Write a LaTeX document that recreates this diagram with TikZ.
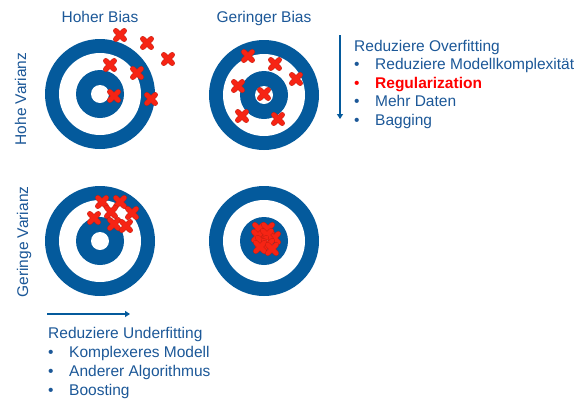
\documentclass[tikz,border=0pt]{standalone}
\usepackage{fontspec}
\setmainfont{Liberation Sans}
\usetikzlibrary{arrows.meta}
\definecolor{ringblue}{RGB}{4,90,156}
\definecolor{txtblue}{RGB}{28,88,152}
\definecolor{xred}{RGB}{246,36,20}
\definecolor{bred}{RGB}{255,0,0}
\tikzset{
  lbl/.style={inner sep=0pt, text=txtblue, font=\fontsize{15.5}{18}\selectfont, text height=11pt, text depth=3pt},
  itm/.style={lbl, anchor=west},
  bul/.style={lbl, anchor=west},
  arr/.style={draw=ringblue, line width=2pt, -{Triangle[length=5pt,width=6pt]}},
  kreuz/.pic={
    \draw[xred!80!black, line width=5.4pt, line cap=round] (-4.2,-4.2)--(4.2,4.2) (-4.2,4.2)--(4.2,-4.2);
    \draw[xred, line width=4.4pt, line cap=round] (-4.2,-4.2)--(4.2,4.2) (-4.2,4.2)--(4.2,-4.2);
  },
  zielscheibe/.pic={
    \fill[ringblue] (0,0) circle (55);
    \fill[white] (0,0) circle (41);
    \fill[ringblue] (0,0) circle (24);
    \fill[white] (0,0) circle (9);
  }
}
\begin{document}
\begin{tikzpicture}[x=1pt,y=-1pt]
\useasboundingbox (0,0) rectangle (586,405);
\fill[white] (0,0) rectangle (586,405);

% column headers
\node[lbl] (hb) at (100,18) {Hoher Bias};
\node[lbl] (gb) at (264,18) {Geringer Bias};
% row labels
\node[lbl, rotate=90] (hv) at (22,99) {Hohe Varianz};
\node[lbl, rotate=90] (gv) at (24,242) {Geringe Varianz};

% targets
\pic (t1) at (100,94) {zielscheibe};
\pic (t2) at (264,95) {zielscheibe};
\pic (t3) at (100,241) {zielscheibe};
\pic (t4) at (264,241) {zielscheibe};

% crosses target 1
\foreach \p in {(120,35),(147,43),(168,59),(110,65),(137,73),(114,96),(151,99)}
  \pic at \p {kreuz};
% crosses target 2
\foreach \p in {(248,56),(275,64),(296,79),(238,86),(264,94),(242,116),(278,119)}
  \pic at \p {kreuz};
% crosses target 3
\foreach \p in {(102,202),(120,202),(111,212),(132,213),(94,218),(114,224),(126,226)}
  \pic at \p {kreuz};
% crosses target 4
\foreach \p in {(259,229),(268,229),(258,236),(274,238),(267,235),(262,242),(268,245),(260,247),(272,249)}
  \pic at \p {kreuz};

% vertical arrow
\coordinate (va1) at (340,35);
\coordinate (va2) at (340,119);
\draw[arr] (va1) -- (va2);
% horizontal arrow
\coordinate (ha1) at (47,314);
\coordinate (ha2) at (130,314);
\draw[arr] (ha1) -- (ha2);

% right list
\node[itm] (ro) at (354,47) {Reduziere Overfitting};
\node[bul] (rb1) at (354,65) {•};
\node[itm] (r1) at (375,65) {Reduziere Modellkomplexität};
\node[bul, text=bred] (rb2) at (354,84) {•};
\node[itm, text=bred, font=\fontsize{15.5}{18}\selectfont\bfseries] (r2) at (375,84) {Regularization};
\node[bul] (rb3) at (354,102) {•};
\node[itm] (r3) at (375,102) {Mehr Daten};
\node[bul] (rb4) at (354,121) {•};
\node[itm] (r4) at (375,121) {Bagging};

% bottom list
\node[itm] (ru) at (48,334) {Reduziere Underfitting};
\node[bul] (ub1) at (48,353) {•};
\node[itm] (u1) at (69,353) {Komplexeres Modell};
\node[bul] (ub2) at (48,372) {•};
\node[itm] (u2) at (69,372) {Anderer Algorithmus};
\node[bul] (ub3) at (48,391) {•};
\node[itm] (u3) at (69,391) {Boosting};
\end{tikzpicture}
\end{document}
